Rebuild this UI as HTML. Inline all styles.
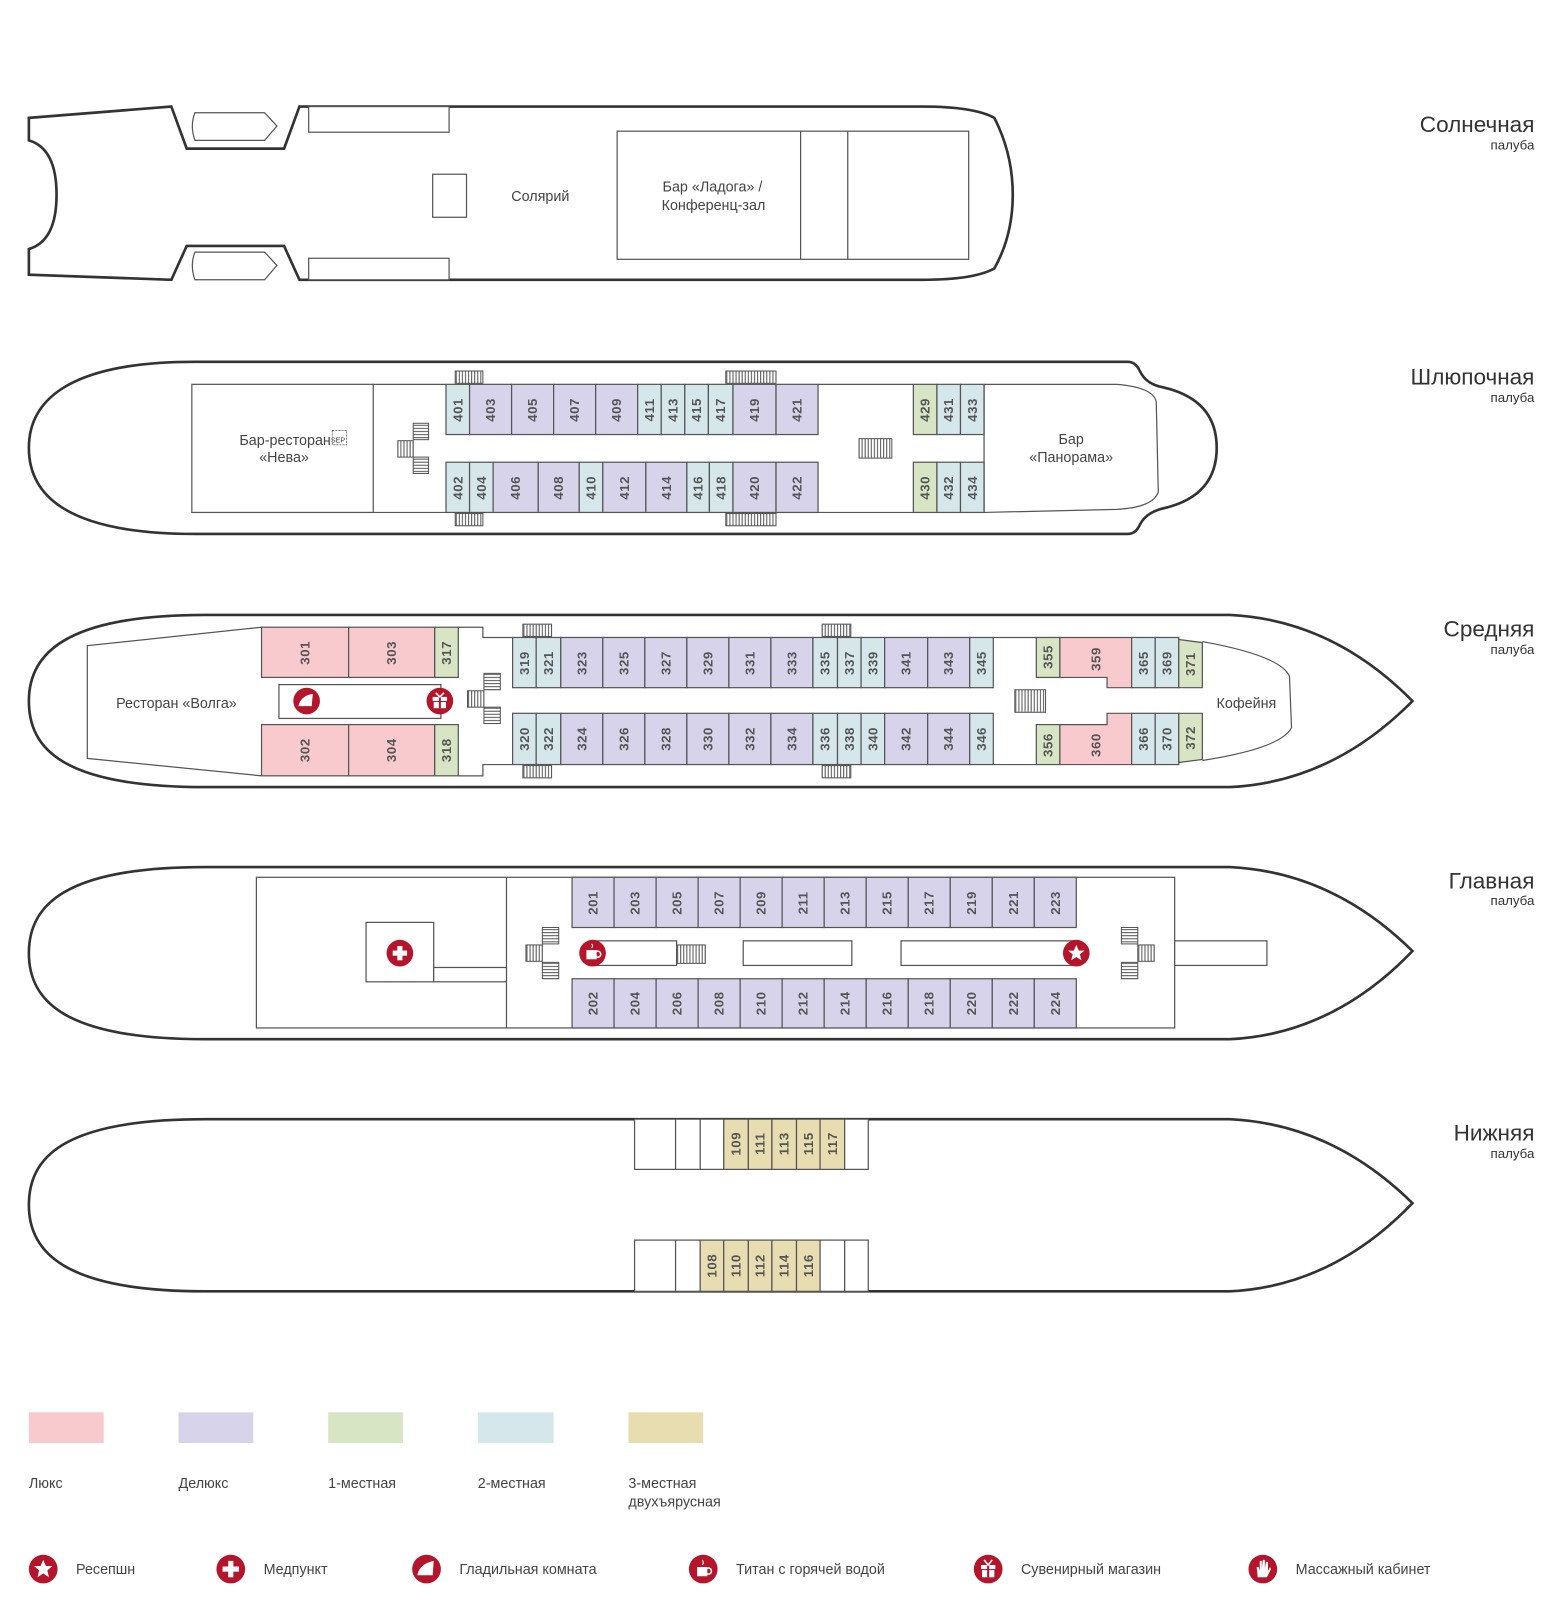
<!DOCTYPE html>
<html><head><meta charset="utf-8">
<style>
html,body{margin:0;padding:0;background:#fff}
svg{display:block}
text{font-family:"Liberation Sans",sans-serif;fill:#444}
.h{fill:#fff;stroke:#333;stroke-width:2.6}
.l{fill:none;stroke:#555;stroke-width:1.2}
.w{fill:#fff;stroke:#555;stroke-width:1.2}
.a{fill:#f9cacd;stroke:#555;stroke-width:1.2}
.d{fill:#d7d3ea;stroke:#555;stroke-width:1.2}
.s{fill:#d8e5c5;stroke:#555;stroke-width:1.2}
.t{fill:#d6e7ec;stroke:#555;stroke-width:1.2}
.q{fill:#e8ddb0;stroke:#555;stroke-width:1.2}
.n{font-size:13px;font-weight:bold;fill:#555;text-anchor:middle;dominant-baseline:central;letter-spacing:0.5px}
.lb{font-size:14px;text-anchor:middle}
.dt{font-size:22px;text-anchor:end;fill:#333}
.dp{font-size:13px;text-anchor:end;fill:#333}
.lg{font-size:14px}
.st{fill:#fff;stroke:#555;stroke-width:1}
</style></head><body>
<svg width="1551" height="1607" viewBox="0 0 1513 1568" xmlns="http://www.w3.org/2000/svg">
<defs>
<pattern id="sv" width="3" height="3" patternUnits="userSpaceOnUse"><rect width="3" height="3" fill="#fff"/><line x1="1" y1="0" x2="1" y2="3" stroke="#555" stroke-width="1"/></pattern>
<pattern id="sh" width="3" height="3" patternUnits="userSpaceOnUse"><rect width="3" height="3" fill="#fff"/><line x1="0" y1="1" x2="3" y2="1" stroke="#555" stroke-width="1"/></pattern>
</defs>

<!-- Deck titles -->
<text class="dt" x="1497" y="129">Солнечная</text><text class="dp" x="1497" y="146">палуба</text>
<text class="dt" x="1497" y="375">Шлюпочная</text><text class="dp" x="1497" y="392">палуба</text>
<text class="dt" x="1497" y="621">Средняя</text><text class="dp" x="1497" y="638">палуба</text>
<text class="dt" x="1497" y="867">Главная</text><text class="dp" x="1497" y="883">палуба</text>
<text class="dt" x="1497" y="1113">Нижняя</text><text class="dp" x="1497" y="1130">палуба</text>

<!-- SUN DECK -->
<path class="h" d="M28,115 L167,104 L182,145 L277,145 L292,104 L900,104 Q950,104 970,115 Q988,150 988,190 Q988,230 970,262 Q950,273 900,273 L292,273 L277,240 L182,240 L167,273 L28,268 L28,243 Q55,235 55,190 Q55,145 28,137 Z"/>
<path class="l" d="M190,110 L258,110 L270,123 L258,137 L190,137 Q185,123 190,110 Z"/>
<path class="l" d="M190,246 L258,246 L270,259 L258,273 L190,273 Q185,259 190,246 Z"/>
<rect class="w" x="301" y="104" width="137" height="25"/>
<rect class="w" x="301" y="252" width="137" height="21"/>
<rect class="w" x="422" y="170" width="33" height="42"/>
<rect class="w" x="602" y="128" width="343" height="125"/>
<line class="l" x1="781" y1="128" x2="781" y2="253"/><line class="l" x1="827" y1="128" x2="827" y2="253"/>
<text class="lb" x="527" y="196">Солярий</text>
<text class="lb" x="695" y="187">Бар «Ладога» /</text>
<text class="lb" x="696" y="205">Конференц-зал</text>

<!-- BOAT DECK -->
<path class="h" d="M190,353 L1100,353 Q1108,353 1112,362 Q1118,375 1135,378 Q1187,390 1187,437 Q1187,484 1135,496 Q1118,500 1112,512 Q1108,521 1100,521 L190,521 C60,521 28,480 28,437 C28,395 60,353 190,353 Z"/>
<path class="l" d="M960,375 L1090,375 Q1125,378 1128,392 L1130,480 Q1125,495 1090,497 L960,500"/>
<rect class="w" x="187" y="375" width="177" height="125"/>
<line class="l" x1="364" y1="375" x2="435" y2="375"/><line class="l" x1="364" y1="500" x2="435" y2="500"/>
<line class="l" x1="798" y1="375" x2="891" y2="375"/><line class="l" x1="798" y1="500" x2="891" y2="500"/>
<text class="lb" x="285" y="434">Бар-ресторан<tspan font-size="7" dy="-2">SEP</tspan></text>
<rect x="324" y="420" width="14" height="14" fill="none" stroke="#666" stroke-dasharray="2,1" stroke-width="0.8"/>
<text class="lb" x="277" y="451">«Нева»</text>
<rect x="444" y="362" width="27" height="12" fill="url(#sv)" stroke="#555"/>
<rect x="708" y="362" width="49" height="12" fill="url(#sv)" stroke="#555"/>
<rect x="444" y="501" width="27" height="12" fill="url(#sv)" stroke="#555"/>
<rect x="708" y="501" width="49" height="12" fill="url(#sv)" stroke="#555"/>
<rect x="403" y="413" width="15" height="16" fill="url(#sh)" stroke="#555"/>
<rect x="388" y="430" width="15" height="16" fill="url(#sv)" stroke="#555"/>
<rect x="403" y="446" width="15" height="16" fill="url(#sh)" stroke="#555"/>
<rect x="838" y="428" width="32" height="19" fill="url(#sv)" stroke="#555"/>
<!-- top row -->
<rect class="t" x="435" y="375" width="23" height="49"/><text class="n" transform="translate(446.5,400) rotate(-90)">401</text>
<rect class="d" x="458" y="375" width="41" height="49"/><text class="n" transform="translate(478.5,400) rotate(-90)">403</text>
<rect class="d" x="499" y="375" width="41" height="49"/><text class="n" transform="translate(519.5,400) rotate(-90)">405</text>
<rect class="d" x="540" y="375" width="41" height="49"/><text class="n" transform="translate(560.5,400) rotate(-90)">407</text>
<rect class="d" x="581" y="375" width="41" height="49"/><text class="n" transform="translate(601.5,400) rotate(-90)">409</text>
<rect class="t" x="622" y="375" width="23" height="49"/><text class="n" transform="translate(633.5,400) rotate(-90)">411</text>
<rect class="t" x="645" y="375" width="23" height="49"/><text class="n" transform="translate(656.5,400) rotate(-90)">413</text>
<rect class="t" x="668" y="375" width="23" height="49"/><text class="n" transform="translate(679.5,400) rotate(-90)">415</text>
<rect class="t" x="691" y="375" width="24" height="49"/><text class="n" transform="translate(703,400) rotate(-90)">417</text>
<rect class="d" x="715" y="375" width="42" height="49"/><text class="n" transform="translate(736,400) rotate(-90)">419</text>
<rect class="d" x="757" y="375" width="41" height="49"/><text class="n" transform="translate(777.5,400) rotate(-90)">421</text>
<!-- bottom row -->
<rect class="t" x="435" y="451" width="23" height="49"/><text class="n" transform="translate(446.5,476) rotate(-90)">402</text>
<rect class="t" x="458" y="451" width="23" height="49"/><text class="n" transform="translate(469.5,476) rotate(-90)">404</text>
<rect class="d" x="481" y="451" width="44" height="49"/><text class="n" transform="translate(503,476) rotate(-90)">406</text>
<rect class="d" x="525" y="451" width="40" height="49"/><text class="n" transform="translate(545,476) rotate(-90)">408</text>
<rect class="t" x="565" y="451" width="23" height="49"/><text class="n" transform="translate(576.5,476) rotate(-90)">410</text>
<rect class="d" x="588" y="451" width="42" height="49"/><text class="n" transform="translate(609,476) rotate(-90)">412</text>
<rect class="d" x="630" y="451" width="40" height="49"/><text class="n" transform="translate(650,476) rotate(-90)">414</text>
<rect class="t" x="670" y="451" width="22" height="49"/><text class="n" transform="translate(681,476) rotate(-90)">416</text>
<rect class="t" x="692" y="451" width="23" height="49"/><text class="n" transform="translate(703.5,476) rotate(-90)">418</text>
<rect class="d" x="715" y="451" width="42" height="49"/><text class="n" transform="translate(736,476) rotate(-90)">420</text>
<rect class="d" x="757" y="451" width="41" height="49"/><text class="n" transform="translate(777.5,476) rotate(-90)">422</text>
<rect class="s" x="891" y="375" width="23" height="49"/><text class="n" transform="translate(902.5,400) rotate(-90)">429</text>
<rect class="t" x="914" y="375" width="23" height="49"/><text class="n" transform="translate(925.5,400) rotate(-90)">431</text>
<rect class="t" x="937" y="375" width="23" height="49"/><text class="n" transform="translate(948.5,400) rotate(-90)">433</text>
<rect class="s" x="891" y="451" width="23" height="49"/><text class="n" transform="translate(902.5,476) rotate(-90)">430</text>
<rect class="t" x="914" y="451" width="23" height="49"/><text class="n" transform="translate(925.5,476) rotate(-90)">432</text>
<rect class="t" x="937" y="451" width="23" height="49"/><text class="n" transform="translate(948.5,476) rotate(-90)">434</text>
<line class="l" x1="960" y1="375" x2="960" y2="500"/>
<text class="lb" x="1045" y="433">Бар</text>
<text class="lb" x="1045" y="451">«Панорама»</text>

<!-- MIDDLE DECK -->
<path class="h" d="M200,600 L1200,600 Q1300,605 1378,684 Q1300,763 1200,768 L200,768 C60,768 28,730 28,684 C28,640 60,600 200,600 Z"/>
<path class="l" d="M255,612 L85,630 L85,740 L255,757"/>
<path class="l" d="M447,612 L471,612 L471,622 L500,622 M447,757 L471,757 L471,746 L500,746"/>
<rect class="w" x="272" y="668" width="158" height="33"/>
<line class="l" x1="969" y1="622" x2="1011" y2="622"/><line class="l" x1="969" y1="746" x2="1011" y2="746"/>
<path class="l" d="M1173,626 Q1250,640 1258,660 L1260,710 Q1250,730 1173,742"/>
<text class="lb" x="172" y="691">Ресторан «Волга»</text>
<rect class="a" x="255" y="612" width="85" height="49"/><text class="n" transform="translate(297.5,637) rotate(-90)">301</text>
<rect class="a" x="340" y="612" width="84" height="49"/><text class="n" transform="translate(382,637) rotate(-90)">303</text>
<rect class="s" x="424" y="612" width="23" height="49"/><text class="n" transform="translate(435.5,637) rotate(-90)">317</text>
<rect class="a" x="255" y="707" width="85" height="50"/><text class="n" transform="translate(297.5,732) rotate(-90)">302</text>
<rect class="a" x="340" y="707" width="84" height="50"/><text class="n" transform="translate(382,732) rotate(-90)">304</text>
<rect class="s" x="424" y="707" width="23" height="50"/><text class="n" transform="translate(435.5,732) rotate(-90)">318</text>
<rect x="510" y="609" width="28" height="12" fill="url(#sv)" stroke="#555"/>
<rect x="802" y="609" width="28" height="12" fill="url(#sv)" stroke="#555"/>
<rect x="510" y="747" width="28" height="12" fill="url(#sv)" stroke="#555"/>
<rect x="802" y="747" width="28" height="12" fill="url(#sv)" stroke="#555"/>
<rect x="472" y="657" width="16" height="16" fill="url(#sh)" stroke="#555"/>
<rect x="456" y="674" width="16" height="16" fill="url(#sv)" stroke="#555"/>
<rect x="472" y="690" width="16" height="16" fill="url(#sh)" stroke="#555"/>
<rect x="990" y="673" width="30" height="22" fill="url(#sv)" stroke="#555"/>
<!-- top -->
<rect class="t" x="500" y="622" width="23" height="49"/><text class="n" transform="translate(511.5,647) rotate(-90)">319</text>
<rect class="t" x="523" y="622" width="24" height="49"/><text class="n" transform="translate(535,647) rotate(-90)">321</text>
<rect class="d" x="547" y="622" width="41" height="49"/><text class="n" transform="translate(567.5,647) rotate(-90)">323</text>
<rect class="d" x="588" y="622" width="41" height="49"/><text class="n" transform="translate(608.5,647) rotate(-90)">325</text>
<rect class="d" x="629" y="622" width="41" height="49"/><text class="n" transform="translate(649.5,647) rotate(-90)">327</text>
<rect class="d" x="670" y="622" width="41" height="49"/><text class="n" transform="translate(690.5,647) rotate(-90)">329</text>
<rect class="d" x="711" y="622" width="41" height="49"/><text class="n" transform="translate(731.5,647) rotate(-90)">331</text>
<rect class="d" x="752" y="622" width="41" height="49"/><text class="n" transform="translate(772.5,647) rotate(-90)">333</text>
<rect class="t" x="793" y="622" width="24" height="49"/><text class="n" transform="translate(805,647) rotate(-90)">335</text>
<rect class="t" x="817" y="622" width="23" height="49"/><text class="n" transform="translate(828.5,647) rotate(-90)">337</text>
<rect class="t" x="840" y="622" width="23" height="49"/><text class="n" transform="translate(851.5,647) rotate(-90)">339</text>
<rect class="d" x="863" y="622" width="42" height="49"/><text class="n" transform="translate(884,647) rotate(-90)">341</text>
<rect class="d" x="905" y="622" width="41" height="49"/><text class="n" transform="translate(925.5,647) rotate(-90)">343</text>
<rect class="t" x="946" y="622" width="23" height="49"/><text class="n" transform="translate(957.5,647) rotate(-90)">345</text>
<!-- bottom -->
<rect class="t" x="500" y="696" width="23" height="50"/><text class="n" transform="translate(511.5,721) rotate(-90)">320</text>
<rect class="t" x="523" y="696" width="24" height="50"/><text class="n" transform="translate(535,721) rotate(-90)">322</text>
<rect class="d" x="547" y="696" width="41" height="50"/><text class="n" transform="translate(567.5,721) rotate(-90)">324</text>
<rect class="d" x="588" y="696" width="41" height="50"/><text class="n" transform="translate(608.5,721) rotate(-90)">326</text>
<rect class="d" x="629" y="696" width="41" height="50"/><text class="n" transform="translate(649.5,721) rotate(-90)">328</text>
<rect class="d" x="670" y="696" width="41" height="50"/><text class="n" transform="translate(690.5,721) rotate(-90)">330</text>
<rect class="d" x="711" y="696" width="41" height="50"/><text class="n" transform="translate(731.5,721) rotate(-90)">332</text>
<rect class="d" x="752" y="696" width="41" height="50"/><text class="n" transform="translate(772.5,721) rotate(-90)">334</text>
<rect class="t" x="793" y="696" width="24" height="50"/><text class="n" transform="translate(805,721) rotate(-90)">336</text>
<rect class="t" x="817" y="696" width="23" height="50"/><text class="n" transform="translate(828.5,721) rotate(-90)">338</text>
<rect class="t" x="840" y="696" width="23" height="50"/><text class="n" transform="translate(851.5,721) rotate(-90)">340</text>
<rect class="d" x="863" y="696" width="42" height="50"/><text class="n" transform="translate(884,721) rotate(-90)">342</text>
<rect class="d" x="905" y="696" width="41" height="50"/><text class="n" transform="translate(925.5,721) rotate(-90)">344</text>
<rect class="t" x="946" y="696" width="23" height="50"/><text class="n" transform="translate(957.5,721) rotate(-90)">346</text>
<!-- fore -->
<rect class="s" x="1011" y="622" width="23" height="39"/><text class="n" transform="translate(1022.5,641) rotate(-90)">355</text>
<path class="a" d="M1034,622 L1104,622 L1104,671 L1080,671 L1080,661 L1034,661 Z"/><text class="n" transform="translate(1069,643) rotate(-90)">359</text>
<rect class="t" x="1104" y="622" width="23" height="49"/><text class="n" transform="translate(1115.5,647) rotate(-90)">365</text>
<rect class="t" x="1127" y="622" width="23" height="49"/><text class="n" transform="translate(1138.5,647) rotate(-90)">369</text>
<path class="s" d="M1150,624 L1173,627 L1173,671 L1150,671 Z"/><text class="n" transform="translate(1161.5,648) rotate(-90)">371</text>
<rect class="s" x="1011" y="707" width="23" height="39"/><text class="n" transform="translate(1022.5,727) rotate(-90)">356</text>
<path class="a" d="M1034,707 L1080,707 L1080,696 L1104,696 L1104,746 L1034,746 Z"/><text class="n" transform="translate(1069,727) rotate(-90)">360</text>
<rect class="t" x="1104" y="696" width="23" height="50"/><text class="n" transform="translate(1115.5,721) rotate(-90)">366</text>
<rect class="t" x="1127" y="696" width="23" height="50"/><text class="n" transform="translate(1138.5,721) rotate(-90)">370</text>
<path class="s" d="M1150,696 L1173,696 L1173,741 L1150,744 Z"/><text class="n" transform="translate(1161.5,720) rotate(-90)">372</text>
<text class="lb" x="1216" y="691">Кофейня</text>
<!-- icons middle -->
<g transform="translate(299,684)"><ellipse rx="13" ry="13" fill="#b5152b"/><path d="M-8,5 Q-6,-5 6,-7 L5,5 Z" fill="#fff"/></g>
<g transform="translate(429,684)"><ellipse rx="13" ry="13" fill="#b5152b"/><rect x="-7" y="-4" width="14" height="4" fill="#fff"/><rect x="-6" y="1" width="12" height="6" fill="#fff"/><rect x="-1" y="-4" width="2" height="11" fill="#b5152b"/><path d="M-4,-8 L0,-4 L4,-8" stroke="#fff" stroke-width="1.5" fill="none"/></g>

<!-- MAIN DECK -->
<path class="h" d="M200,846 L1200,846 Q1300,851 1378,928 Q1300,1009 1200,1014 L200,1014 C60,1014 28,975 28,930 C28,885 60,846 200,846 Z"/>
<rect class="w" x="250" y="856" width="896" height="147"/>
<line class="l" x1="494" y1="856" x2="494" y2="1003"/>
<rect class="w" x="357" y="900" width="66" height="58"/>
<rect class="w" x="423" y="944" width="71" height="14"/>
<rect class="w" x="578" y="918" width="82" height="24"/>
<rect x="660" y="922" width="28" height="18" fill="url(#sv)" stroke="#555"/>
<rect class="w" x="725" y="918" width="106" height="24"/>
<rect class="w" x="879" y="918" width="171" height="24"/>
<rect class="w" x="1146" y="918" width="90" height="24"/>
<rect x="529" y="905" width="16" height="16" fill="url(#sh)" stroke="#555"/>
<rect x="513" y="922" width="16" height="16" fill="url(#sv)" stroke="#555"/>
<rect x="529" y="939" width="16" height="16" fill="url(#sh)" stroke="#555"/>
<rect x="1094" y="905" width="16" height="16" fill="url(#sh)" stroke="#555"/>
<rect x="1110" y="922" width="16" height="16" fill="url(#sv)" stroke="#555"/>
<rect x="1094" y="939" width="16" height="16" fill="url(#sh)" stroke="#555"/>
<rect class="d" x="558" y="856" width="41" height="49"/><text class="n" transform="translate(578.5,881) rotate(-90)">201</text>
<rect class="d" x="599" y="856" width="41" height="49"/><text class="n" transform="translate(619.5,881) rotate(-90)">203</text>
<rect class="d" x="640" y="856" width="41" height="49"/><text class="n" transform="translate(660.5,881) rotate(-90)">205</text>
<rect class="d" x="681" y="856" width="41" height="49"/><text class="n" transform="translate(701.5,881) rotate(-90)">207</text>
<rect class="d" x="722" y="856" width="41" height="49"/><text class="n" transform="translate(742.5,881) rotate(-90)">209</text>
<rect class="d" x="763" y="856" width="41" height="49"/><text class="n" transform="translate(783.5,881) rotate(-90)">211</text>
<rect class="d" x="804" y="856" width="41" height="49"/><text class="n" transform="translate(824.5,881) rotate(-90)">213</text>
<rect class="d" x="845" y="856" width="41" height="49"/><text class="n" transform="translate(865.5,881) rotate(-90)">215</text>
<rect class="d" x="886" y="856" width="41" height="49"/><text class="n" transform="translate(906.5,881) rotate(-90)">217</text>
<rect class="d" x="927" y="856" width="41" height="49"/><text class="n" transform="translate(947.5,881) rotate(-90)">219</text>
<rect class="d" x="968" y="856" width="41" height="49"/><text class="n" transform="translate(988.5,881) rotate(-90)">221</text>
<rect class="d" x="1009" y="856" width="41" height="49"/><text class="n" transform="translate(1029.5,881) rotate(-90)">223</text>
<rect class="d" x="558" y="955" width="41" height="48"/><text class="n" transform="translate(578.5,979) rotate(-90)">202</text>
<rect class="d" x="599" y="955" width="41" height="48"/><text class="n" transform="translate(619.5,979) rotate(-90)">204</text>
<rect class="d" x="640" y="955" width="41" height="48"/><text class="n" transform="translate(660.5,979) rotate(-90)">206</text>
<rect class="d" x="681" y="955" width="41" height="48"/><text class="n" transform="translate(701.5,979) rotate(-90)">208</text>
<rect class="d" x="722" y="955" width="41" height="48"/><text class="n" transform="translate(742.5,979) rotate(-90)">210</text>
<rect class="d" x="763" y="955" width="41" height="48"/><text class="n" transform="translate(783.5,979) rotate(-90)">212</text>
<rect class="d" x="804" y="955" width="41" height="48"/><text class="n" transform="translate(824.5,979) rotate(-90)">214</text>
<rect class="d" x="845" y="955" width="41" height="48"/><text class="n" transform="translate(865.5,979) rotate(-90)">216</text>
<rect class="d" x="886" y="955" width="41" height="48"/><text class="n" transform="translate(906.5,979) rotate(-90)">218</text>
<rect class="d" x="927" y="955" width="41" height="48"/><text class="n" transform="translate(947.5,979) rotate(-90)">220</text>
<rect class="d" x="968" y="955" width="41" height="48"/><text class="n" transform="translate(988.5,979) rotate(-90)">222</text>
<rect class="d" x="1009" y="955" width="41" height="48"/><text class="n" transform="translate(1029.5,979) rotate(-90)">224</text>
<g transform="translate(390,930)"><circle r="13" fill="#b5152b"/><rect x="-2.5" y="-7" width="5" height="14" fill="#fff"/><rect x="-7" y="-2.5" width="14" height="5" fill="#fff"/></g>
<g transform="translate(578,930)"><circle r="13" fill="#b5152b"/><rect x="-6" y="-3" width="10" height="9" fill="#fff"/><circle cx="5" cy="1" r="3" fill="none" stroke="#fff" stroke-width="1.5"/><path d="M-1,-5 q2,-2 0,-4" stroke="#fff" fill="none"/></g>
<g transform="translate(1050,930)"><circle r="13" fill="#b5152b"/><polygon points="0,-8 2.4,-2.5 8,-2.5 3.5,1.2 5,7 0,3.8 -5,7 -3.5,1.2 -8,-2.5 -2.4,-2.5" fill="#fff"/></g>

<!-- LOWER DECK -->
<path class="h" d="M200,1092 L1200,1092 Q1300,1097 1378,1174 Q1300,1255 1200,1260 L200,1260 C60,1260 28,1220 28,1176 C28,1130 60,1092 200,1092 Z"/>
<rect class="w" x="619" y="1092" width="40" height="49"/><rect class="w" x="659" y="1092" width="24" height="49"/><rect class="w" x="683" y="1092" width="23" height="49"/>
<rect class="q" x="706" y="1092" width="24" height="49"/><text class="n" transform="translate(718,1116) rotate(-90)">109</text>
<rect class="q" x="730" y="1092" width="23" height="49"/><text class="n" transform="translate(741.5,1116) rotate(-90)">111</text>
<rect class="q" x="753" y="1092" width="24" height="49"/><text class="n" transform="translate(765,1116) rotate(-90)">113</text>
<rect class="q" x="777" y="1092" width="23" height="49"/><text class="n" transform="translate(788.5,1116) rotate(-90)">115</text>
<rect class="q" x="800" y="1092" width="24" height="49"/><text class="n" transform="translate(812,1116) rotate(-90)">117</text>
<rect class="w" x="824" y="1092" width="23" height="49"/>
<rect class="w" x="619" y="1210" width="40" height="50"/><rect class="w" x="659" y="1210" width="24" height="50"/>
<rect class="q" x="683" y="1210" width="23" height="50"/><text class="n" transform="translate(694.5,1235) rotate(-90)">108</text>
<rect class="q" x="706" y="1210" width="24" height="50"/><text class="n" transform="translate(718,1235) rotate(-90)">110</text>
<rect class="q" x="730" y="1210" width="23" height="50"/><text class="n" transform="translate(741.5,1235) rotate(-90)">112</text>
<rect class="q" x="753" y="1210" width="24" height="50"/><text class="n" transform="translate(765,1235) rotate(-90)">114</text>
<rect class="q" x="777" y="1210" width="23" height="50"/><text class="n" transform="translate(788.5,1235) rotate(-90)">116</text>
<rect class="w" x="800" y="1210" width="24" height="50"/><rect class="w" x="824" y="1210" width="23" height="50"/>

<!-- LEGEND -->
<rect x="28" y="1378" width="73" height="30" fill="#f9cacd"/>
<rect x="174" y="1378" width="73" height="30" fill="#d7d3ea"/>
<rect x="320" y="1378" width="73" height="30" fill="#d8e5c5"/>
<rect x="466" y="1378" width="74" height="30" fill="#d6e7ec"/>
<rect x="613" y="1378" width="73" height="30" fill="#e8ddb0"/>
<text class="lg" x="28" y="1452">Люкс</text>
<text class="lg" x="174" y="1452">Делюкс</text>
<text class="lg" x="320" y="1452">1-местная</text>
<text class="lg" x="466" y="1452">2-местная</text>
<text class="lg" x="613" y="1452">3-местная</text>
<text class="lg" x="613" y="1470">двухъярусная</text>

<g transform="translate(42,1531)"><circle r="14" fill="#b5152b"/><polygon points="0,-9 2.6,-3 9,-3 4,1.3 5.6,8 0,4.2 -5.6,8 -4,1.3 -9,-3 -2.6,-3" fill="#fff"/></g>
<text class="lg" x="74" y="1536">Ресепшн</text>
<g transform="translate(225,1531)"><circle r="14" fill="#b5152b"/><rect x="-2.5" y="-8" width="5" height="16" fill="#fff"/><rect x="-8" y="-2.5" width="16" height="5" fill="#fff"/></g>
<text class="lg" x="257" y="1536">Медпункт</text>
<g transform="translate(416,1531)"><circle r="14" fill="#b5152b"/><path d="M-9,6 Q-7,-5 7,-8 L6,6 Z" fill="#fff"/></g>
<text class="lg" x="448" y="1536">Гладильная комната</text>
<g transform="translate(686,1531)"><circle r="14" fill="#b5152b"/><rect x="-6" y="-2" width="10" height="9" fill="#fff"/><circle cx="5" cy="2" r="3" fill="none" stroke="#fff" stroke-width="1.5"/><path d="M-1,-4 q2,-2 0,-5" stroke="#fff" fill="none"/></g>
<text class="lg" x="718" y="1536">Титан с горячей водой</text>
<g transform="translate(964,1531)"><circle r="14" fill="#b5152b"/><rect x="-7" y="-4" width="14" height="4" fill="#fff"/><rect x="-6" y="1" width="12" height="7" fill="#fff"/><rect x="-1" y="-4" width="2" height="12" fill="#b5152b"/><path d="M-4,-9 L0,-4 L4,-9" stroke="#fff" stroke-width="1.5" fill="none"/></g>
<text class="lg" x="996" y="1536">Сувенирный магазин</text>
<g transform="translate(1232,1531)"><circle r="14" fill="#b5152b"/><path d="M-5,8 L-6,-2 L-4,-2 L-3,2 L-3,-8 L-1,-8 L-1,0 L0,-9 L2,-9 L2,0 L3,-7 L5,-7 L5,2 L7,-2 L8,0 L4,8 Z" fill="#fff"/></g>
<text class="lg" x="1264" y="1536">Массажный кабинет</text>
</svg>
</body></html>
